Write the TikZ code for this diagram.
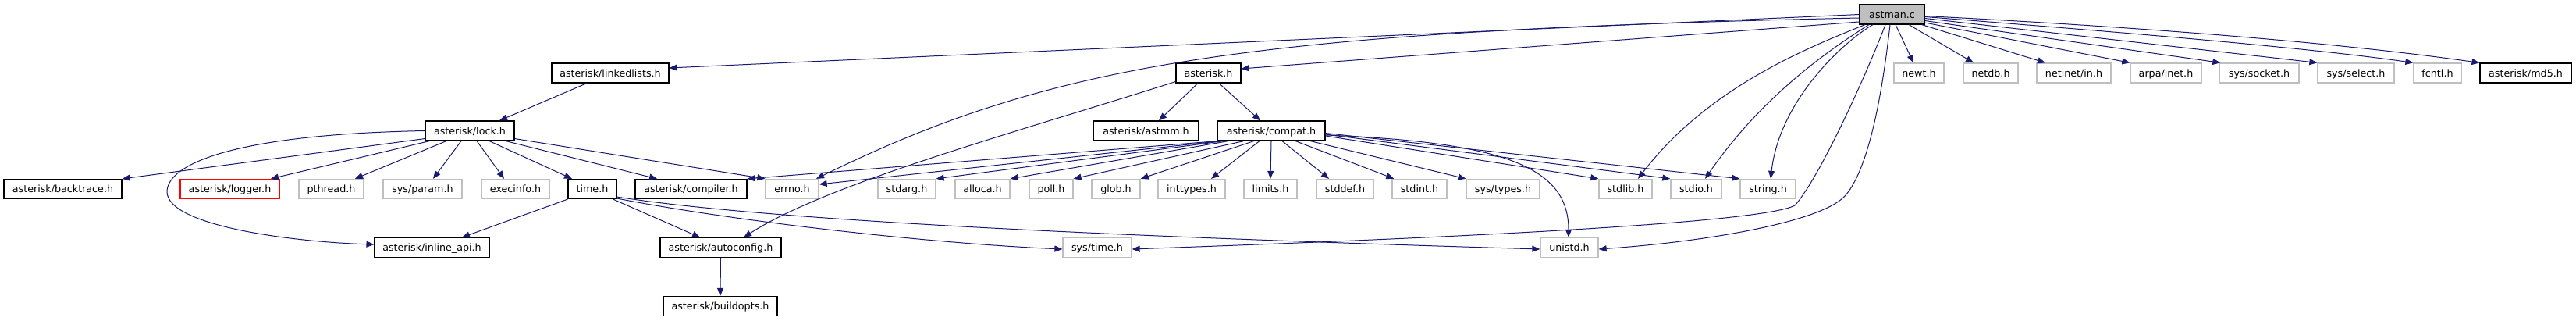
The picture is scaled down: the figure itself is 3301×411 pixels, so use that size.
\documentclass[tikz,border=0pt]{standalone}
\usepackage{fontspec}
\setmainfont{DejaVu Sans}
\usetikzlibrary{arrows.meta}
\definecolor{edgeblue}{HTML}{191970}
\definecolor{greyline}{HTML}{BFBFBF}
\definecolor{fillgrey}{HTML}{BFBFBF}
\begin{document}
\begin{tikzpicture}[x=1pt,y=-1pt,
  hbox/.style={draw=black,line width=1.1pt,fill=white,minimum height=25pt,inner sep=0pt,
    text height=9.7pt,text depth=0.5pt,font=\fontsize{12.7}{15}\selectfont},
  ubox/.style={hbox,draw=greyline,line width=1.3pt},
  rbox/.style={hbox,draw=red,line width=1.2pt},
  mainbox/.style={hbox,fill=fillgrey},
  edge/.style={draw=edgeblue,line width=1pt,-{Triangle[length=10pt,width=8pt]}}
]
\useasboundingbox[fill=white] (0,0) rectangle (3301,411);

% row 0
\node[mainbox,minimum width=83pt] (astman) at (2424.5,18.5) {astman.c};
% row 1
\node[hbox,minimum width=150pt] (linkedlists) at (782,93.5) {asterisk/linkedlists.h};
\node[hbox,minimum width=83pt] (asterisk) at (1548.5,93.5) {asterisk.h};
\node[ubox,minimum width=64pt] (newt) at (2459,93.5) {newt.h};
\node[ubox,minimum width=70pt] (netdb) at (2551,93.5) {netdb.h};
\node[ubox,minimum width=95pt] (netinet) at (2657.5,93.5) {netinet/in.h};
\node[ubox,minimum width=91pt] (arpa) at (2775.5,93.5) {arpa/inet.h};
\node[ubox,minimum width=102pt] (socket) at (2895,93.5) {sys/socket.h};
\node[ubox,minimum width=98pt] (select) at (3019,93.5) {sys/select.h};
\node[ubox,minimum width=61pt] (fcntl) at (3123.5,93.5) {fcntl.h};
\node[hbox,minimum width=117pt] (md5) at (3236.5,93.5) {asterisk/md5.h};
% row 2
\node[hbox,minimum width=114pt] (lock) at (602,167.5) {asterisk/lock.h};
\node[hbox,minimum width=135pt] (astmm) at (1468.5,167.5) {asterisk/astmm.h};
\node[hbox,minimum width=138pt] (compat) at (1629,167.5) {asterisk/compat.h};
% row 3
\node[hbox,minimum width=151pt] (backtrace) at (80.5,242) {asterisk/backtrace.h};
\node[rbox,minimum width=127pt] (logger) at (294.5,242) {asterisk/logger.h};
\node[ubox,minimum width=83pt] (pthread) at (424.5,242) {pthread.h};
\node[ubox,minimum width=101pt] (param) at (541.5,242) {sys/param.h};
\node[ubox,minimum width=87pt] (execinfo) at (660.5,242) {execinfo.h};
\node[hbox,minimum width=62pt] (time) at (759,242) {time.h};
\node[hbox,minimum width=143pt] (compiler) at (885.5,242) {asterisk/compiler.h};
\node[ubox,minimum width=68pt] (errno) at (1015,242) {errno.h};
\node[ubox,minimum width=74pt] (stdarg) at (1162,242) {stdarg.h};
\node[ubox,minimum width=70pt] (alloca) at (1259,242) {alloca.h};
\node[ubox,minimum width=56pt] (poll) at (1347,242) {poll.h};
\node[ubox,minimum width=62pt] (glob) at (1430,242) {glob.h};
\node[ubox,minimum width=86pt] (inttypes) at (1527,242) {inttypes.h};
\node[ubox,minimum width=68pt] (limits) at (1628,242) {limits.h};
\node[ubox,minimum width=73pt] (stddef) at (1723.5,242) {stddef.h};
\node[ubox,minimum width=70pt] (stdint) at (1819,242) {stdint.h};
\node[ubox,minimum width=94pt] (systypes) at (1926,242) {sys/types.h};
\node[ubox,minimum width=68pt] (stdlib) at (2083,242) {stdlib.h};
\node[ubox,minimum width=65pt] (stdio) at (2173.5,242) {stdio.h};
\node[ubox,minimum width=71pt] (string) at (2265.5,242) {string.h};
% row 4
\node[hbox,minimum width=147pt] (inlineapi) at (553.5,317) {asterisk/inline\_api.h};
\node[hbox,minimum width=155pt] (autoconfig) at (923.5,317) {asterisk/autoconfig.h};
\node[ubox,minimum width=88pt] (systime) at (1406,317) {sys/time.h};
\node[ubox,minimum width=74pt] (unistd) at (2011,317) {unistd.h};
% row 5
\node[hbox,minimum width=146pt] (buildopts) at (923,392) {asterisk/buildopts.h};

% edges from astman.c
\draw[edge] (astman.west) -- ([yshift=6.5pt]linkedlists.east);
\draw[edge] ([yshift=-9.5pt]astman.west) -- ([yshift=5.5pt]asterisk.east);
\draw[edge] ([yshift=-4.5pt]astman.west) .. controls (1600,40) and (1350,80) .. ([xshift=31pt]errno.north);
\draw[edge] ([xshift=-34.5pt]astman.south) .. controls (2320,60) and (2190,110) .. ([xshift=16pt]stdlib.north);
\draw[edge] ([xshift=-29.5pt]astman.south) .. controls (2350,60) and (2260,120) .. ([xshift=11.5pt]stdio.north);
\draw[edge] ([xshift=-24.5pt]astman.south) .. controls (2360,55) and (2280,130) .. ([xshift=3.5pt]string.north);
\draw[edge] ([xshift=-8.5pt]astman.south) .. controls (2390,100) and (2330,230) .. (2300,263)
  .. controls (2250,290) and (1700,310) .. ([yshift=-2pt]systime.east);
\draw[edge] ([xshift=-2.5pt]astman.south) .. controls (2412,120) and (2395,215) .. (2365,250)
  .. controls (2335,285) and (2180,310) .. ([yshift=-2pt]unistd.east);
\draw[edge] ([xshift=4.5pt]astman.south) -- ([xshift=-7pt]newt.north);
\draw[edge] ([xshift=21.5pt]astman.south) -- ([xshift=-22pt]netdb.north);
\draw[edge] ([xshift=38pt]astman.south) -- ([xshift=-36.5pt]netinet.north);
\draw[edge] ([yshift=-10.5pt]astman.east) -- (arpa.north west);
\draw[edge] ([yshift=-8pt]astman.east) -- ([xshift=2pt]socket.north west);
\draw[edge] ([yshift=-5pt]astman.east) -- (select.north west);
\draw[edge] ([yshift=-3pt]astman.east) .. controls (2700,40) and (2950,60) .. (fcntl.north west);
\draw[edge] ([yshift=-2pt]astman.east) .. controls (2750,35) and (3000,55) .. (md5.north west);

% linkedlists / asterisk.h
\draw[edge] ([xshift=-30pt]linkedlists.south) -- ([xshift=38pt]lock.north);
\draw[edge] ([xshift=-13.5pt]asterisk.south) -- ([xshift=16.5pt]astmm.north);
\draw[edge] ([xshift=13.5pt]asterisk.south) -- ([xshift=-14pt]compat.north);
\draw[edge] ([yshift=2pt]asterisk.south west) .. controls (1300,170) and (1060,235) .. ([xshift=29.5pt]autoconfig.north);

% lock.h
\draw[edge] (lock.west) .. controls (300,172) and (215,210) .. (214,245)
  .. controls (213,290) and (380,310) .. ([yshift=4pt]inlineapi.west);
\draw[edge] ([yshift=3pt]lock.south west) -- (backtrace.north east);
\draw[edge] ([xshift=6pt]lock.south west) -- ([xshift=52.5pt]logger.north);
\draw[edge] ([xshift=-30pt]lock.south) -- ([xshift=30.5pt]pthread.north);
\draw[edge] ([xshift=-11pt]lock.south) -- ([xshift=13.5pt]param.north);
\draw[edge] ([xshift=9pt]lock.south) -- ([xshift=-14.5pt]execinfo.north);
\draw[edge] ([xshift=25pt]lock.south) -- ([xshift=-26pt]time.north);
\draw[edge] ([xshift=46pt]lock.south) -- ([xshift=-43.5pt]compiler.north);
\draw[edge] ([yshift=3pt]lock.south east) -- (errno.north west);

% compat.h
\draw[edge] ([xshift=2pt]compat.south west) -- (compiler.north east);
\draw[edge] ([xshift=5pt]compat.south west) -- ([yshift=6pt]errno.east);
\draw[edge] ([xshift=9pt]compat.south west) -- (stdarg.north east);
\draw[edge] ([xshift=15pt]compat.south west) -- (alloca.north east);
\draw[edge] ([xshift=-35pt]compat.south) -- (poll.north east);
\draw[edge] ([xshift=-22pt]compat.south) -- (glob.north east);
\draw[edge] ([xshift=-15pt]compat.south) -- ([xshift=25pt]inttypes.north);
\draw[edge] (compat.south) -- (limits.north);
\draw[edge] ([xshift=14pt]compat.south) -- ([xshift=-20.5pt]stddef.north);
\draw[edge] ([xshift=31pt]compat.south) -- ([xshift=3pt]stdint.north west);
\draw[edge] ([xshift=50pt]compat.south) -- (systypes.north west);
\draw[edge] ([yshift=-6.5pt]compat.east) -- (stdlib.north west);
\draw[edge] ([yshift=-4.5pt]compat.east) -- (stdio.north west);
\draw[edge] ([yshift=-3pt]compat.east) -- (string.north west);
\draw[edge] ([yshift=-5.5pt]compat.east) .. controls (1930,182) and (2010,215) .. ([xshift=-1pt]unistd.north);

% time.h
\draw[edge] (time.south west) -- ([xshift=38.5pt]inlineapi.north);
\draw[edge] ([xshift=-5pt]time.south east) -- ([xshift=-26.5pt]autoconfig.north);
\draw[edge] ([yshift=1pt]time.south east) .. controls (950,285) and (1200,312) .. ([yshift=-2pt]systime.west);
\draw[edge] ([yshift=3pt]time.south east) .. controls (1000,285) and (1500,305) .. ([yshift=-2pt]unistd.west);

% autoconfig
\draw[edge] (autoconfig.south) -- (buildopts.north);
\end{tikzpicture}
\end{document}
